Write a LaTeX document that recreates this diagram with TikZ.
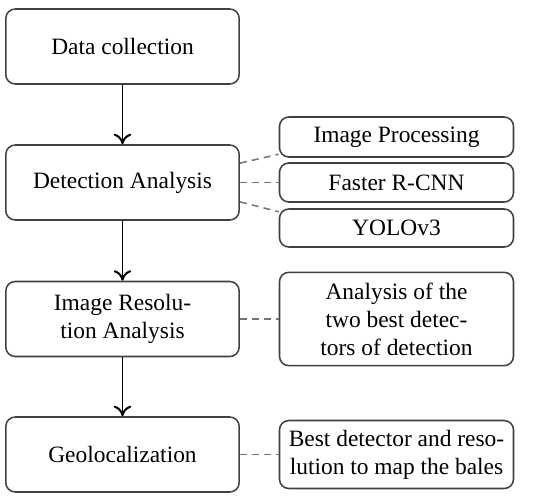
\documentclass[tikz,border=0pt]{standalone}
\usepackage{fontspec}
\setmainfont{Liberation Serif}
\usetikzlibrary{arrows.meta}

\begin{document}
\begin{tikzpicture}[x=0.015cm, y=-0.015cm,
        stage/.style={draw=black!75, line width=0.65pt, rounded corners=4pt, align=center,
            minimum width=3.5cm, minimum height=1.125cm, inner sep=2pt},
        method/.style={stage, minimum width=3.51cm, minimum height=0.6cm},
        flow/.style={-{To[length=4.5pt, width=7.5pt]}, line width=0.85pt},
        link/.style={draw=black!55, line width=0.65pt, dash pattern=on 3pt off 2.2pt}]
            \useasboundingbox (0, 0) rectangle (550, 502);

            % main stages
            \node [stage] (data) at (122.5, 46.5) {Data collection};
            \node [stage] (detect) at (122.5, 182.5) {Detection Analysis};
            \node [stage] (resol) at (122.5, 319) {Image Resolu-\\tion Analysis};
            \node [stage] (geo) at (122.5, 454.5) {Geolocalization};

            \draw [flow] (data) -- (detect);
            \draw [flow] (detect) -- (resol);
            \draw [flow] (resol) -- (geo);

            % side boxes
            \node [method] (imgproc) at (396.5, 137) {Image Processing};
            \node [method, minimum height=0.585cm] (frcnn) at (396.5, 182.5) {Faster R-CNN};
            \node [method, minimum height=0.57cm] (yolo) at (396.5, 228) {YOLOv3};
            \node [method, minimum height=1.4cm] (analysis) at (396.5, 319)
                {Analysis of the\\two best detec-\\tors of detection};
            \node [method, minimum height=1.02cm] (best) at (396.5, 454.5)
                {Best detector and reso-\\lution to map the bales};

            \draw [link] ([yshift=0.29cm]detect.east) -- ([yshift=1.5pt]imgproc.south west);
            \draw [link] (detect) -- (frcnn);
            \draw [link] ([yshift=-0.29cm]detect.east) -- ([yshift=-1.5pt]yolo.north west);
            \draw [link] (resol) -- (analysis);
            \draw [link] (geo) -- (best);
        \end{tikzpicture}
\end{document}
